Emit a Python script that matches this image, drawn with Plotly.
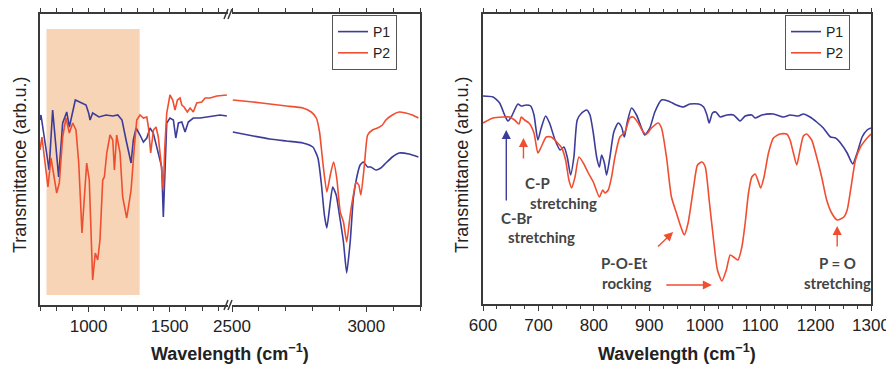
import plotly.graph_objects as go

# ---------------- Left panel (broken axis) ----------------
# Segment A: 700-1860 cm^-1
p1_a_wn = [700, 706, 756, 778, 815, 840, 865, 881, 918, 953, 984, 1000, 1009, 1025, 1064, 1107, 1149, 1180, 1206,
           1231, 1262, 1276, 1293, 1317, 1338, 1359, 1379, 1399, 1420, 1441, 1451, 1461, 1472, 1482, 1502, 1523,
           1538, 1554, 1575, 1595, 1615, 1646, 1688, 1729, 1770, 1811, 1853]
p1_a_t = [185, 190, 135, 195, 128, 182, 193, 178, 205, 202, 200, 192, 185, 192, 188, 190, 189, 190, 185,
          165, 142, 165, 177, 170, 163, 167, 177, 172, 158, 143, 138, 88, 138, 182, 187, 185,
          167, 182, 183, 173, 183, 187, 187, 188, 189, 190, 189]
p2_a_wn = [700, 712, 749, 768, 803, 819, 840, 860, 881, 902, 922, 939, 959, 973, 988, 1004, 1015, 1025, 1041,
           1056, 1070, 1087, 1097, 1112, 1132, 1149, 1159, 1173, 1194, 1210, 1235, 1262, 1282, 1297, 1317, 1338,
           1359, 1369, 1383, 1400, 1416, 1430, 1445, 1461, 1470, 1482, 1502, 1519, 1533, 1548, 1564, 1575, 1589,
           1609, 1626, 1646, 1667, 1698, 1719, 1749, 1791, 1853]
p2_a_t = [155, 168, 118, 147, 112, 122, 168, 187, 172, 182, 175, 142, 72, 108, 142, 125, 75, 25, 52,
          45, 65, 125, 128, 152, 170, 165, 135, 170, 152, 108, 87, 115, 158, 185, 190, 187,
          188, 178, 152, 175, 178, 168, 145, 115, 158, 192, 210, 205, 195, 205, 207, 200, 198,
          193, 197, 193, 202, 203, 207, 207, 209, 210]
# Segment B: 2500-3200 cm^-1
p1_b_wn = [2503, 2579, 2641, 2703, 2764, 2801, 2820, 2832, 2844, 2853, 2866, 2875, 2888, 2900, 2915, 2927, 2940,
           2952, 2964, 2977, 2989, 3005, 3017, 3036, 3054, 3073, 3097, 3122, 3159, 3194]
p1_b_t = [173, 169, 166, 164, 162, 158, 147, 123, 90, 77, 103, 118, 110, 90, 63, 32, 63,
          107, 127, 140, 143, 138, 138, 135, 137, 142, 148, 152, 151, 148]
p2_b_wn = [2503, 2579, 2641, 2703, 2764, 2795, 2814, 2826, 2838, 2853, 2866, 2878, 2890, 2903, 2915, 2927, 2940,
           2952, 2962, 2972, 2980, 2993, 3005, 3023, 3042, 3060, 3073, 3097, 3122, 3147, 3171, 3194]
p2_b_t = [205, 203, 201, 199, 197, 193, 187, 173, 143, 113, 130, 143, 127, 93, 83, 63, 90,
          110, 123, 120, 110, 140, 170, 175, 177, 180, 185, 190, 193, 192, 190, 187]
shade_range = [740, 1315]

# ---------------- Right panel (600-1300 cm^-1) ----------------
p1_r_wn = [600, 618, 630, 639, 645, 651, 663, 669, 678, 686, 692, 699, 705, 713, 720, 730, 739, 746, 752, 758,
           764, 770, 778, 787, 793, 799, 805, 810, 814, 819, 823, 829, 836, 844, 850, 855, 860, 868, 877, 886,
           892, 901, 910, 922, 934, 949, 961, 973, 989, 998, 1004, 1008, 1014, 1020, 1028, 1040, 1052, 1064,
           1073, 1085, 1091, 1103, 1124, 1142, 1154, 1169, 1178, 1190, 1202, 1214, 1227, 1236, 1245, 1257,
           1267, 1275, 1284, 1293, 1300]
p1_r_t = [208, 207, 201, 189, 183, 187, 200, 198, 199, 198, 189, 164, 176, 188, 181, 164, 154, 157, 147, 129,
          147, 184, 191, 194, 189, 171, 147, 137, 149, 141, 129, 147, 172, 181, 177, 167, 181, 196, 189, 176,
          169, 176, 192, 204, 203, 199, 197, 200, 200, 197, 189, 181, 191, 192, 187, 189, 189, 183,
          188, 189, 186, 189, 190, 187, 189, 188, 190, 187, 182, 176, 167, 166, 161, 151,
          140, 151, 167, 174, 176]
p2_r_wn = [600, 618, 636, 648, 657, 665, 669, 675, 683, 692, 699, 705, 714, 723, 733, 742, 749, 755, 760, 766,
           773, 781, 790, 799, 810, 816, 820, 826, 832, 838, 847, 856, 865, 871, 880, 889, 895, 904, 916, 922,
           931, 940, 949, 957, 963, 970, 980, 987, 995, 1001, 1008, 1016, 1023, 1031, 1039, 1046, 1052, 1060,
           1067, 1073, 1079, 1085, 1091, 1097, 1101, 1107, 1115, 1124, 1136, 1148, 1154, 1160, 1166, 1172,
           1178, 1184, 1193, 1202, 1211, 1220, 1229, 1239, 1251, 1257, 1264, 1272, 1281, 1293, 1300]
p2_r_t = [181, 186, 187, 187, 184, 180, 187, 184, 181, 171, 151, 157, 167, 167, 162, 156, 144, 124, 116, 127,
          147, 141, 131, 122, 107, 114, 111, 114, 127, 147, 167, 172, 186, 187, 181, 172, 170, 176, 181, 176,
          147, 107, 91, 77, 69, 81, 117, 139, 142, 137, 104, 64, 34, 23, 34, 49, 47, 44,
          57, 81, 111, 127, 130, 122, 116, 127, 151, 166, 170, 170, 164, 151, 139, 154,
          168, 170, 164, 147, 127, 104, 91, 84, 87, 94, 117, 144, 157, 166, 170]

# Annotation labels (right panel)
label_text = ["C-P", "stretching", "C-Br", "stretching", "P-O-Et", "rocking", "P = O", "stretching"]
label_wn = [698, 745, 661, 705, 856, 860, 1239, 1239]
label_t = [121, 101, 86, 67, 41, 21, 41, 21]
# Arrows: (tail wn, tail t) -> (head wn, head t), colour key
arrow_tail_wn = [642, 673, 913, 928, 1239]
arrow_tail_t = [102, 144, 56, 19, 56]
arrow_head_wn = [642, 673, 943, 1013, 1239]
arrow_head_t = [174, 166, 72, 19, 78]
arrow_series = ["P1", "P2", "P2", "P2", "P2"]

C1 = "#3c3c9a"
C2 = "#f04e30"
AX = "#3a3a3a"
FONT = "Liberation Sans, Arial, sans-serif"

# page body has an 8px margin: the figure starts at (8, 8) in the window
OFF = 8
W, H = 894 - OFF, 365 - OFF
def px(v):
    return (v - OFF) / W
def py(v):
    return (H - (v - OFF)) / H

fig = go.Figure()

lw = 1.6
fig.add_trace(go.Scatter(x=p1_a_wn, y=p1_a_t, mode="lines", line=dict(color=C1, width=lw), name="P1",
                         xaxis="x", yaxis="y", legend="legend"))
fig.add_trace(go.Scatter(x=p2_a_wn, y=p2_a_t, mode="lines", line=dict(color=C2, width=lw), name="P2",
                         xaxis="x", yaxis="y", legend="legend"))
fig.add_trace(go.Scatter(x=p1_b_wn, y=p1_b_t, mode="lines", line=dict(color=C1, width=lw, shape="spline", smoothing=0.5),
                         name="P1", showlegend=False, xaxis="x2", yaxis="y3"))
fig.add_trace(go.Scatter(x=p2_b_wn, y=p2_b_t, mode="lines", line=dict(color=C2, width=lw, shape="spline", smoothing=0.5),
                         name="P2", showlegend=False, xaxis="x2", yaxis="y3"))
fig.add_trace(go.Scatter(x=p1_r_wn, y=p1_r_t, mode="lines", line=dict(color=C1, width=lw, shape="spline", smoothing=0.6),
                         name="P1", xaxis="x3", yaxis="y2", legend="legend2"))
fig.add_trace(go.Scatter(x=p2_r_wn, y=p2_r_t, mode="lines", line=dict(color=C2, width=lw, shape="spline", smoothing=0.6),
                         name="P2", xaxis="x3", yaxis="y2", legend="legend2"))

# shaded region
fig.add_shape(type="rect", xref="x", yref="y", x0=shade_range[0], x1=shade_range[1], y0=10, y1=276,
              fillcolor="#f8d4b6", line=dict(width=0), layer="below")

tickfont = dict(family=FONT, size=17, color="#222")
yd = [py(305), py(14)]
common_x = dict(showline=True, linecolor=AX, linewidth=1.5, mirror="ticks", ticks="outside", ticklen=5,
                tickcolor=AX, tickwidth=1.2, tickfont=tickfont, showgrid=False, zeroline=False, automargin=False)
common_y = dict(showline=True, linecolor=AX, linewidth=1.5, showticklabels=False, ticks="", showgrid=False,
                zeroline=False, automargin=False)
fig.update_layout(
    template="none",
    width=W, height=H, margin=dict(l=0, r=0, t=0, b=0, pad=0),
    paper_bgcolor="white", plot_bgcolor="white",
    xaxis=dict(domain=[px(40), px(228)], range=[700, 1860], tick0=0, dtick=500,
               minor=dict(dtick=100, ticks="outside", ticklen=4, tickcolor=AX), anchor="y", **common_x),
    xaxis2=dict(domain=[px(232), px(420)], range=[2500, 3200], tick0=0, dtick=500,
                minor=dict(dtick=100, ticks="outside", ticklen=4, tickcolor=AX), anchor="y3", **common_x),
    yaxis=dict(domain=yd, range=[0, 291], anchor="x", **common_y),
    yaxis3=dict(domain=yd, range=[0, 291], matches="y", side="right", anchor="x2", **common_y),
    xaxis3=dict(domain=[px(483), px(871)], range=[600, 1300], dtick=100,
                minor=dict(dtick=25, ticks="outside", ticklen=3, tickcolor=AX), anchor="y2", **common_x),
    yaxis2=dict(domain=[py(304), py(14)], range=[0, 290], mirror=True, anchor="x3", **common_y),
    legend=dict(x=px(397), y=py(15), xanchor="right", yanchor="top", bgcolor="white", bordercolor="#555",
                borderwidth=1, font=dict(family=FONT, size=14, color="#222"), tracegroupgap=0,
                itemwidth=30),
    legend2=dict(x=px(850), y=py(15), xanchor="right", yanchor="top", bgcolor="white", bordercolor="#555",
                 borderwidth=1, font=dict(family=FONT, size=14, color="#222"), tracegroupgap=0,
                 itemwidth=30),
    showlegend=True,
)

# axis titles
title_font = dict(family=FONT, size=18, color="#222")
for cx in [230, 677]:
    fig.add_annotation(text="<b>Wavelength (cm<sup>−1</sup>)</b>", xref="paper", yref="paper", x=px(cx), y=py(352),
                       xanchor="center", yanchor="middle", showarrow=False, font=title_font)
for cx in [20, 462]:
    fig.add_annotation(text="Transmittance (arb.u.)", xref="paper", yref="paper", x=px(cx), y=py(165),
                       xanchor="center", yanchor="middle", showarrow=False, textangle=-90, font=title_font)

# axis break marks (two slanted strokes on top and bottom axis lines)
for yc in [305, 14]:
    for dx in [-2, 2]:
        fig.add_shape(type="line", xref="paper", yref="paper",
                      x0=px(228 + dx - 2), y0=py(yc + 5), x1=px(228 + dx + 2), y1=py(yc - 5),
                      line=dict(color=AX, width=1.5))

# labels
for t, xw, yt in zip(label_text, label_wn, label_t):
    fig.add_annotation(text="<b>" + t + "</b>", xref="x3", yref="y2", x=xw, y=yt, showarrow=False,
                       xanchor="center", yanchor="middle",
                       font=dict(family="Lato, Open Sans, sans-serif", size=15, color="#444"))
# arrows
for tw, tt, hw, ht, s in zip(arrow_tail_wn, arrow_tail_t, arrow_head_wn, arrow_head_t, arrow_series):
    fig.add_annotation(text="", xref="x3", yref="y2", axref="x3", ayref="y2", x=hw, y=ht, ax=tw, ay=tt,
                       showarrow=True, arrowhead=2, arrowsize=1.3, arrowwidth=1.4,
                       arrowcolor=C1 if s == "P1" else C2)

fig.write_html("out.html")
